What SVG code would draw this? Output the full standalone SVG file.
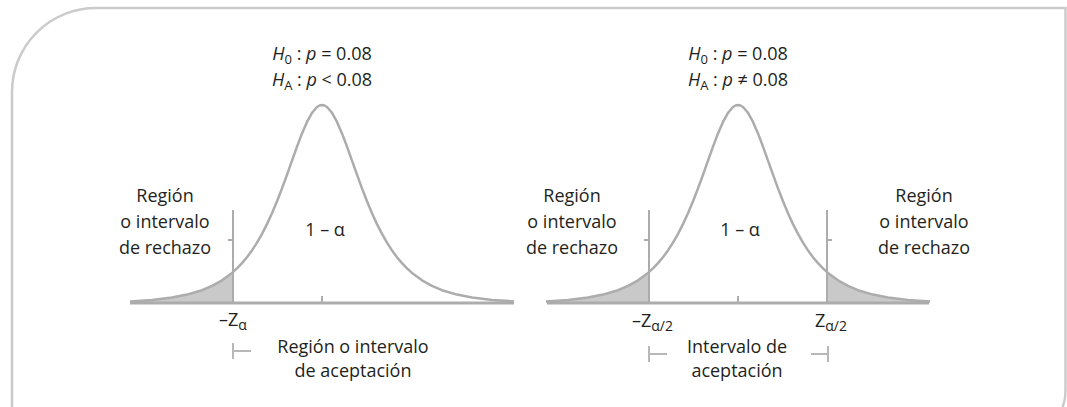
<svg xmlns="http://www.w3.org/2000/svg" xmlns:xlink="http://www.w3.org/1999/xlink" width="1067" height="407" viewBox="0 0 1067 407">
<style>
  .frame { fill: none; stroke: #cbcbcb; stroke-width: 2.5; }
  .curve { fill: none; stroke: #acacac; stroke-width: 2.5; stroke-linejoin: round; }
  .axis { stroke: #acacac; stroke-width: 3; }
  .vline { stroke: #acacac; stroke-width: 2; fill: none; }
  .shade { fill: #c9c9c9; stroke: none; }
  .brk { stroke: #b8b8b8; stroke-width: 2; fill: none; }
  text { font-family: "Open Sans", "Noto Sans", sans-serif; font-size: 18px; fill: #231f20; }
  .hyp { font-size: 18px; }
  .it { font-style: italic; }
  .sub { font-size: 13px; }
  .zsub { font-size: 14px; }
</style>
<defs>
  <path id="bell" d="M -192,-1.6 L -170,-3.1 L -150,-5.4 L -135,-8.4 L -120,-12.8 L -110,-17.1 L -100,-22.7 L -90,-30.1 L -85,-34.6 L -80,-39.9 L -75,-45.8 L -70,-52.6 L -65,-60.4 L -60,-69.1 L -55,-78.9 L -50,-89.7 L -45,-101.7 L -40,-114.6 L -35,-128.3 L -30,-142.4 L -25,-156.4 L -20,-169.6 L -15,-181.1 L -10,-190.2 L -5,-196 L -2.5,-197.5 L 0,-198 L 2.5,-197.5 L 5,-196 L 10,-190.2 L 15,-181.1 L 20,-169.6 L 25,-156.4 L 30,-142.4 L 35,-128.3 L 40,-114.6 L 45,-101.7 L 50,-89.7 L 55,-78.9 L 60,-69.1 L 65,-60.4 L 70,-52.6 L 75,-45.8 L 80,-39.9 L 85,-34.6 L 90,-30.1 L 100,-22.7 L 110,-17.1 L 120,-12.8 L 135,-8.4 L 150,-5.4 L 170,-3.1 L 192,-1.6"/>
  <path id="tail" d="M -192,0 L -192,-1.6 L -170,-3.1 L -150,-5.4 L -135,-8.4 L -120,-12.8 L -110,-17.1 L -100,-22.7 L -89,-30.9 L -89,0 Z"/>
</defs>

<g id="frame">
  <path class="frame" d="M 12,407 L 12,92 A 84 84 0 0 1 96,8 L 1065.5,8 L 1065.5,390 Q 1065.5,400 1062.5,407"/>
</g>

<g id="left-distribution" transform="translate(322,303)">
  <use xlink:href="#tail" href="#tail" class="shade"/>
  <line class="axis" x1="-192" y1="0" x2="192" y2="0"/>
  <use xlink:href="#bell" href="#bell" class="curve"/>
  <line class="vline" x1="-89" y1="-93" x2="-89" y2="0"/>
  <line class="vline" x1="-94" y1="-63" x2="-89" y2="-63"/>
  <line class="vline" x1="0" y1="-7" x2="0" y2="0"/>
</g>

<g id="right-distribution" transform="translate(738,303)">
  <use xlink:href="#tail" href="#tail" class="shade"/>
  <use xlink:href="#tail" href="#tail" class="shade" transform="scale(-1,1)"/>
  <line class="axis" x1="-191" y1="0" x2="191" y2="0"/>
  <use xlink:href="#bell" href="#bell" class="curve"/>
  <line class="vline" x1="-89" y1="-93" x2="-89" y2="0"/>
  <line class="vline" x1="-94" y1="-63" x2="-89" y2="-63"/>
  <line class="vline" x1="89" y1="-93" x2="89" y2="0"/>
  <line class="vline" x1="89" y1="-63" x2="94" y2="-63"/>
  <line class="vline" x1="0" y1="-7" x2="0" y2="0"/>
</g>

<g id="connectors">
  <path class="brk" d="M 233,343 L 233,359 M 233,351 L 251,351"/>
  <path class="brk" d="M 649,346 L 649,362 M 649,354 L 667,354"/>
  <path class="brk" d="M 828,346 L 828,362 M 828,354 L 811,354"/>
</g>

<g id="hyp-left">
  <text class="hyp" x="322" y="60" text-anchor="middle"><tspan class="it">H</tspan><tspan class="sub" dy="4">0</tspan><tspan dy="-4"> : </tspan><tspan class="it">p</tspan> = 0.08</text>
  <text class="hyp" x="322" y="86" text-anchor="middle"><tspan class="it">H</tspan><tspan class="sub" dy="4">A</tspan><tspan dy="-4"> : </tspan><tspan class="it">p</tspan> &lt; 0.08</text>
</g>
<g id="hyp-right">
  <text class="hyp" x="738" y="60" text-anchor="middle"><tspan class="it">H</tspan><tspan class="sub" dy="4">0</tspan><tspan dy="-4"> : </tspan><tspan class="it">p</tspan> = 0.08</text>
  <text class="hyp" x="738" y="86" text-anchor="middle"><tspan class="it">H</tspan><tspan class="sub" dy="4">A</tspan><tspan dy="-4"> : </tspan><tspan class="it">p</tspan> ≠ 0.08</text>
</g>

<g id="reject-left">
  <text x="165" y="202" text-anchor="middle">Región</text>
  <text x="165" y="228" text-anchor="middle">o intervalo</text>
  <text x="165" y="254" text-anchor="middle">de rechazo</text>
</g>
<g id="reject-right-a">
  <text x="572" y="202" text-anchor="middle">Región</text>
  <text x="572" y="228" text-anchor="middle">o intervalo</text>
  <text x="572" y="254" text-anchor="middle">de rechazo</text>
</g>
<g id="reject-right-b">
  <text x="924" y="202" text-anchor="middle">Región</text>
  <text x="924" y="228" text-anchor="middle">o intervalo</text>
  <text x="924" y="254" text-anchor="middle">de rechazo</text>
</g>

<g id="one-minus-alpha-left">
  <text x="325" y="236" text-anchor="middle">1 – α</text>
</g>
<g id="one-minus-alpha-right">
  <text x="740" y="236" text-anchor="middle">1 – α</text>
</g>

<g id="z-left">
  <text x="219" y="326">–Z<tspan class="zsub" dy="4">α</tspan></text>
</g>
<g id="z-right-neg">
  <text x="632" y="327">–Z<tspan class="zsub" dy="4">α/2</tspan></text>
</g>
<g id="z-right-pos">
  <text x="815" y="327">Z<tspan class="zsub" dy="4">α/2</tspan></text>
</g>

<g id="accept-left">
  <text x="353" y="353" text-anchor="middle">Región o intervalo</text>
  <text x="353" y="377" text-anchor="middle">de aceptación</text>
</g>
<g id="accept-right">
  <text x="737" y="353" text-anchor="middle">Intervalo de</text>
  <text x="737" y="377" text-anchor="middle">aceptación</text>
</g>
</svg>
